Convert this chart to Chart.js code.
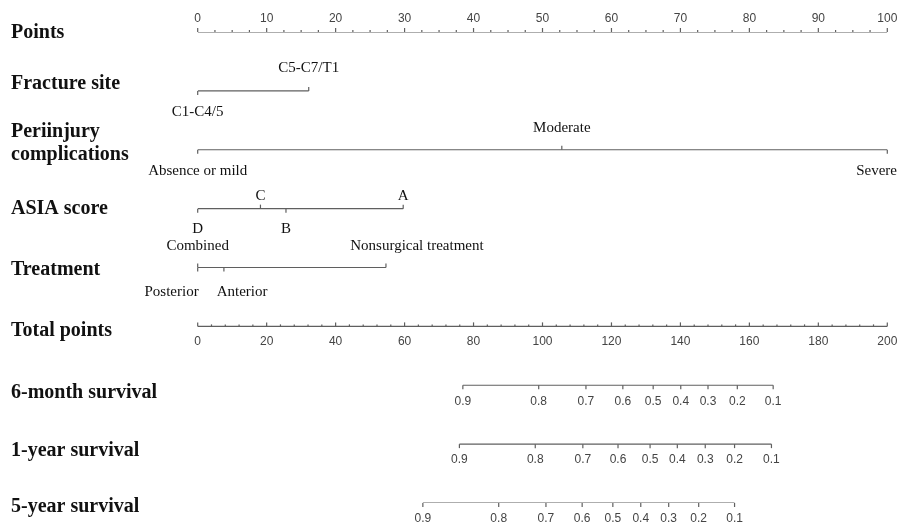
<!DOCTYPE html>
<html>
<head>
<meta charset="utf-8">
<script src="https://cdn.jsdelivr.net/npm/chart.js@4"></script>
<style>
  body { margin: 0; background: #fff; }
</style>
</head>
<body>
<canvas id="myChart" width="899" height="525"></canvas>
<script>
const pointsTicks = [0, 10, 20, 30, 40, 50, 60, 70, 80, 90, 100];
const totalTicks = [0, 20, 40, 60, 80, 100, 120, 140, 160, 180, 200];

const fractureCats = ['C1-C4/5', 'C5-C7/T1'];
const fracturePts = [0, 16.1];

const periCats = ['Absence or mild', 'Moderate', 'Severe'];
const periPts = [0, 52.8, 100];

const asiaCats = ['D', 'C', 'B', 'A'];
const asiaPts = [0, 9.1, 12.8, 29.8];

const treatCats = ['Posterior', 'Combined', 'Anterior', 'Nonsurgical treatment'];
const treatPts = [0, 0, 3.8, 27.3];

const survProbs = ['0.9', '0.8', '0.7', '0.6', '0.5', '0.4', '0.3', '0.2', '0.1'];
const surv6m = [76.9, 98.9, 112.6, 123.3, 132.1, 140.1, 148.0, 156.5, 166.9];
const surv1y = [75.9, 97.9, 111.7, 121.9, 131.2, 139.1, 147.2, 155.7, 166.4];
const surv5y = [65.3, 87.3, 101.0, 111.5, 120.4, 128.5, 136.6, 145.3, 155.7];

const rowTitles = [['Points'], ['Fracture site'], ['Periinjury', 'complications'], ['ASIA score'],
  ['Treatment'], ['Total points'], ['6-month survival'], ['1-year survival'], ['5-year survival']];

// filas de variables categoricas
const catRows = [
  { row: 1, cats: fractureCats, pts: fracturePts },
  { row: 2, cats: periCats, pts: periPts },
  { row: 3, cats: asiaCats, pts: asiaPts },
  { row: 4, cats: treatCats, pts: treatPts }
];
const survRows = [
  { row: 6, totals: surv6m },
  { row: 7, totals: surv1y },
  { row: 8, totals: surv5y }
];

const lineColor = '#5f5f5f';
const titleOffsets = [[1], [-7], [-18, 5], [0], [2], [4], [8], [7], [4]];
const labelOffsets = [[0, 0], [21, -23], [21, -22], [20, -13], [25, -21]];
const labelNudge = { 'Nonsurgical treatment': 31 };

// lineas de cada eje
const datasets = [];
datasets.push({ data: [{ x: 0, y: 0 }, { x: 100, y: 0 }], xAxisID: 'x' });
catRows.forEach(r => {
  datasets.push({ data: [{ x: Math.min(...r.pts), y: r.row }, { x: Math.max(...r.pts), y: r.row }], xAxisID: 'x' });
});
datasets.push({ data: [{ x: 0, y: 5 }, { x: 200, y: 5 }], xAxisID: 'x2' });
survRows.forEach(r => {
  datasets.push({ data: [{ x: r.totals[0], y: r.row }, { x: r.totals[r.totals.length - 1], y: r.row }], xAxisID: 'x2' });
});
datasets.forEach(d => {
  d.showLine = true;
  d.borderColor = lineColor;
  d.borderWidth = 1.2;
  d.pointRadius = 0;
  d.fill = false;
});

function tick(ctx, x, y, len) {
  ctx.beginPath();
  ctx.moveTo(x, y);
  ctx.lineTo(x, y + len);
  ctx.stroke();
}

const nomogramPlugin = {
  id: 'nomogram',
  afterDatasetsDraw(chart) {
    const ctx = chart.ctx;
    const xs = chart.scales.x;
    const xt = chart.scales.x2;
    const ys = chart.scales.y;
    ctx.save();
    ctx.strokeStyle = lineColor;
    ctx.lineWidth = 1.2;
    ctx.textBaseline = 'middle';

    // titulos
    ctx.fillStyle = '#111';
    ctx.font = 'bold 20px "Liberation Serif", "Times New Roman", serif';
    ctx.textAlign = 'left';
    rowTitles.forEach((lines, i) => {
      const y = ys.getPixelForValue(i);
      lines.forEach((t, j) => ctx.fillText(t, 11, y + titleOffsets[i][j]));
    });

    // eje de puntos
    let y0 = ys.getPixelForValue(0);
    for (let v = 0; v <= 100; v += 2.5) {
      const major = v % 10 === 0;
      tick(ctx, xs.getPixelForValue(v), y0, major ? -4 : -2);
    }
    ctx.fillStyle = '#444';
    ctx.font = '12px "Liberation Sans", Arial, sans-serif';
    ctx.textAlign = 'center';
    pointsTicks.forEach(v => ctx.fillText(String(v), xs.getPixelForValue(v), y0 - 13));

    // eje de puntos totales
    y0 = ys.getPixelForValue(5);
    for (let v = 0; v <= 200; v += 4) {
      const major = v % 20 === 0;
      tick(ctx, xt.getPixelForValue(v), y0, major ? -4 : -2);
    }
    totalTicks.forEach(v => ctx.fillText(String(v), xt.getPixelForValue(v), y0 + 15));

    // supervivencia
    survRows.forEach(r => {
      const y = ys.getPixelForValue(r.row);
      r.totals.forEach((t, k) => {
        const px = xt.getPixelForValue(t);
        tick(ctx, px, y, 4);
        ctx.fillText(survProbs[k], px, y + 16);
      });
    });

    // variables categoricas, etiquetas alternando abajo / arriba
    ctx.fillStyle = '#111';
    ctx.font = '15px "Liberation Serif", "Times New Roman", serif';
    catRows.forEach(r => {
      const y = ys.getPixelForValue(r.row);
      const items = r.cats.map((c, k) => ({
        text: c,
        px: xs.getPixelForValue(r.pts[k]),
        side: k % 2 === 0 ? 1 : -1,
        w: ctx.measureText(c).width
      }));
      items.forEach(it => { it.cx = it.px + (labelNudge[it.text] || 0); });
      // separar etiquetas solapadas del mismo lado
      [1, -1].forEach(side => {
        const same = items.filter(it => it.side === side);
        for (let k = 1; k < same.length; k++) {
          const a = same[k - 1], b = same[k];
          const need = (a.w + b.w) / 2 + 18;
          if (b.cx - a.cx < need) {
            const mid = (a.cx + b.cx) / 2;
            a.cx = mid - need / 2 - 4;
            b.cx = mid + need / 2 - 4;
          }
        }
      });
      items.forEach(it => {
        tick(ctx, it.px, y, it.side * 4);
        const cx = Math.min(it.cx, chart.width - 2 - it.w / 2);
        const off = labelOffsets[r.row][it.side === 1 ? 0 : 1];
        ctx.fillText(it.text, cx, y + off);
      });
    });
    ctx.restore();
  }
};

new Chart(document.getElementById('myChart'), {
  type: 'scatter',
  data: { datasets: datasets },
  options: {
    responsive: false,
    animation: false,
    devicePixelRatio: 1,
    layout: { padding: { left: 197.7, right: 11.7, top: 32, bottom: 22 } },
    plugins: { legend: { display: false }, tooltip: { enabled: false } },
    scales: {
      x: { type: 'linear', min: 0, max: 100, display: false },
      x2: { type: 'linear', min: 0, max: 200, display: false },
      y: { type: 'linear', min: 0, max: 8, reverse: true, display: false }
    }
  },
  plugins: [nomogramPlugin]
});
</script>
</body>
</html>
